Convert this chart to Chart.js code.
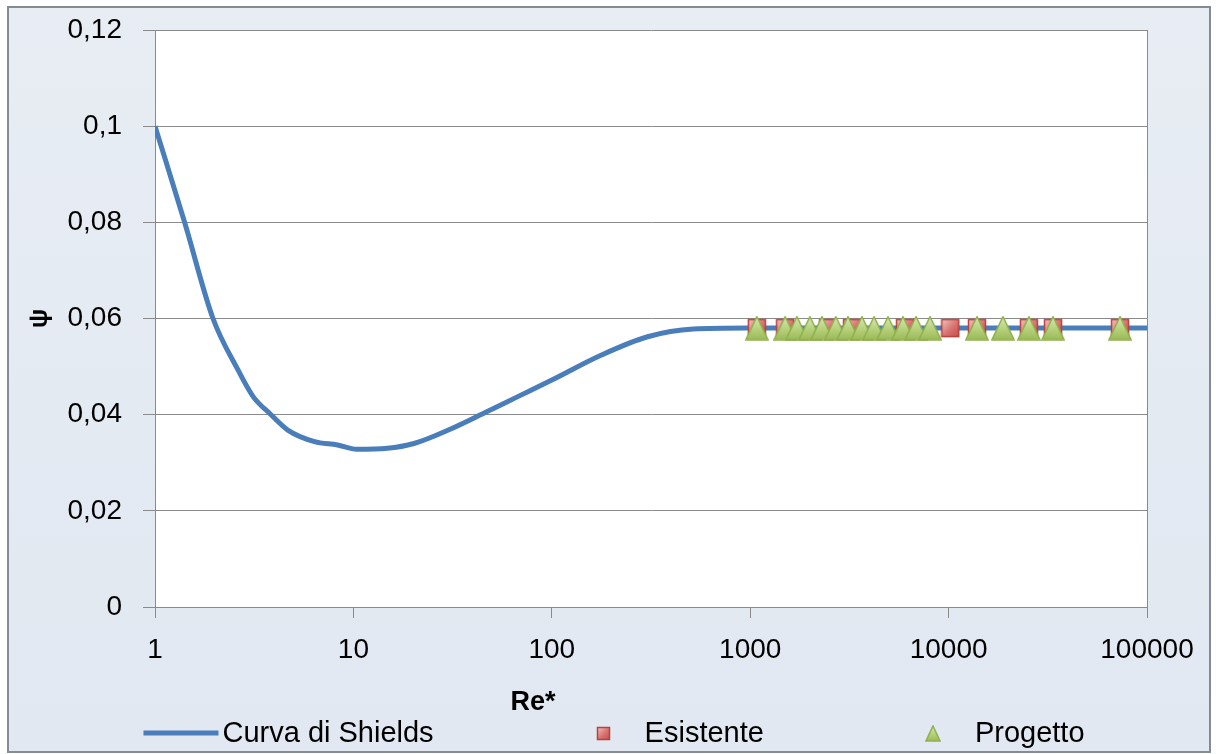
<!DOCTYPE html>
<html>
<head>
<meta charset="utf-8">
<script src="https://cdn.jsdelivr.net/npm/chart.js@4.4.1/dist/chart.umd.min.js"></script>
<style>
  html, body { margin: 0; padding: 0; background: #ffffff; }
  canvas { display: block; }
</style>
</head>
<body>
<canvas id="chart" width="1216" height="754"></canvas>
<script>
// Shields curve: critical Shields parameter versus particle Reynolds number
const shieldsRe  = [1, 1.41, 1.96, 2.62, 3.13, 3.82, 4.67, 6.37, 8.32, 10.4, 14.8, 20.2, 30.1, 47, 67, 100, 178, 304, 517, 964, 100000];
const shieldsPsi = [0.100, 0.080, 0.060, 0.0493, 0.0437, 0.0401, 0.0368, 0.0344, 0.0337, 0.0328, 0.0330, 0.0340, 0.0368, 0.0406, 0.0437, 0.0472, 0.0524, 0.0562, 0.0578, 0.058, 0.058];

// Existing state (Esistente)
const esistenteRe  = [1080, 1500, 2470, 3260, 6030, 10200, 13900, 25400, 33600, 73100];
const esistentePsi = [0.058, 0.058, 0.058, 0.058, 0.058, 0.058, 0.058, 0.058, 0.058, 0.058];

// Design state (Progetto)
const progettoRe  = [1080, 1500, 1720, 2000, 2300, 2700, 3110, 3660, 4210, 4950, 5890, 6850, 8060, 13900, 18800, 25400, 33600, 73100];
const progettoPsi = [0.058, 0.058, 0.058, 0.058, 0.058, 0.058, 0.058, 0.058, 0.058, 0.058, 0.058, 0.058, 0.058, 0.058, 0.058, 0.058, 0.058, 0.058];

// Axis ticks
const xTickValues = [1, 10, 100, 1000, 10000, 100000];
const xTickLabels = ['1', '10', '100', '1000', '10000', '100000'];
const yTickValues = [0, 0.02, 0.04, 0.06, 0.08, 0.10, 0.12];
const yTickLabels = ['0', '0,02', '0,04', '0,06', '0,08', '0,1', '0,12'];

const seriesNames = ['Curva di Shields', 'Esistente', 'Progetto'];
const xTitle = 'Re*';
const yTitle = 'ψ';

const FONT = '"Liberation Sans", Arial, sans-serif';
const LINE_BLUE = '#4a7ebb';
const GRID = '#8a8a8a';

function toPoints(xs, ys) {
  return xs.map((x, i) => ({ x: x, y: ys[i] }));
}

// Marker glyphs with a soft gradient fill
function squareMarker(size) {
  const c = document.createElement('canvas');
  c.width = size + 2; c.height = size + 2;
  const g = c.getContext('2d');
  const grad = g.createLinearGradient(1, 1, size + 1, size + 1);
  grad.addColorStop(0, '#f2c9c8');
  grad.addColorStop(0.55, '#d9716e');
  grad.addColorStop(1, '#c0504d');
  g.fillStyle = grad;
  g.fillRect(1, 1, size, size);
  g.strokeStyle = '#b8403d';
  g.lineWidth = 1.5;
  g.strokeRect(1.5, 1.5, size - 1, size - 1);
  return c;
}

function triangleMarker(w, h) {
  const c = document.createElement('canvas');
  c.width = w + 2; c.height = h + 2;
  const g = c.getContext('2d');
  const grad = g.createLinearGradient(0, 1, 0, h + 1);
  grad.addColorStop(0, '#dbe8bd');
  grad.addColorStop(0.5, '#b9d37f');
  grad.addColorStop(1, '#9bbb59');
  g.beginPath();
  g.moveTo((w + 2) / 2, 1);
  g.lineTo(w + 1, h + 1);
  g.lineTo(1, h + 1);
  g.closePath();
  g.fillStyle = grad;
  g.fill();
  g.strokeStyle = '#8fb04c';
  g.lineWidth = 1.5;
  g.stroke();
  return c;
}

const squareImg = squareMarker(18);
const triangleImg = triangleMarker(22, 23);
const squareLegendImg = squareMarker(13);
const triangleLegendImg = triangleMarker(14, 15);

// Frame, panel fills and plot border
const framePlugin = {
  id: 'frame',
  beforeDraw(chart) {
    const { ctx, chartArea: a, width, height } = chart;
    ctx.save();
    ctx.fillStyle = '#ffffff';
    ctx.fillRect(0, 0, width, height);
    const grad = ctx.createLinearGradient(0, 7, 0, height);
    grad.addColorStop(0, '#e8edf4');
    grad.addColorStop(1, '#e1e8f1');
    ctx.fillStyle = grad;
    ctx.fillRect(8, 7, width - 14, height - 9);
    ctx.strokeStyle = '#858b93';
    ctx.lineWidth = 2;
    ctx.strokeRect(8, 7, width - 14, height - 9);
    ctx.fillStyle = '#ffffff';
    ctx.fillRect(a.left, a.top, a.right - a.left, a.bottom - a.top);
    ctx.restore();
  },
  beforeDatasetsDraw(chart) {
    const { ctx, chartArea: a } = chart;
    ctx.save();
    ctx.strokeStyle = GRID;
    ctx.lineWidth = 1;
    ctx.beginPath();
    ctx.moveTo(Math.round(a.right) + 0.5, a.top);
    ctx.lineTo(Math.round(a.right) + 0.5, a.bottom);
    ctx.stroke();
    ctx.restore();
  }
};

// X axis title and the bottom legend row
const legendPlugin = {
  id: 'bottomLegend',
  afterDraw(chart) {
    const { ctx, chartArea: a } = chart;
    ctx.save();
    ctx.fillStyle = '#000000';
    ctx.textBaseline = 'middle';

    ctx.font = 'bold 27px ' + FONT;
    ctx.textAlign = 'center';
    ctx.fillText(xTitle, a.left + 378, a.bottom + 96);

    ctx.font = '29px ' + FONT;
    ctx.textAlign = 'left';
    const symW = 75, textGap = 4, itemGap = 132;
    const ds = chart.data.datasets;
    const widths = ds.map(d => ctx.measureText(d.label).width);
    let total = itemGap * (ds.length - 1);
    widths.forEach(w => { total += symW + textGap + w; });
    let x = 614 - total / 2;
    const y = a.bottom + 126;
    ds.forEach((d, i) => {
      const cx = x + symW / 2;
      if (d.showLine) {
        ctx.strokeStyle = d.borderColor;
        ctx.lineWidth = d.borderWidth;
        ctx.beginPath();
        ctx.moveTo(x, y);
        ctx.lineTo(x + symW, y);
        ctx.stroke();
      } else {
        const img = d.legendImage;
        ctx.drawImage(img, Math.round(cx - img.width / 2), Math.round(y - img.height / 2));
      }
      ctx.fillText(d.label, x + symW + textGap, y + 1);
      x += symW + textGap + widths[i] + itemGap;
    });
    ctx.restore();
  }
};

new Chart(document.getElementById('chart'), {
  type: 'scatter',
  data: {
    datasets: [
      {
        label: seriesNames[0],
        data: toPoints(shieldsRe, shieldsPsi),
        showLine: true,
        borderColor: LINE_BLUE,
        borderWidth: 5,
        pointRadius: 0,
        cubicInterpolationMode: 'monotone',
        order: 3
      },
      {
        label: seriesNames[1],
        data: toPoints(esistenteRe, esistentePsi),
        showLine: false,
        pointStyle: squareImg,
        pointRadius: 9,
        legendImage: squareLegendImg,
        order: 2
      },
      {
        label: seriesNames[2],
        data: toPoints(progettoRe, progettoPsi),
        showLine: false,
        pointStyle: triangleImg,
        pointRadius: 11,
        legendImage: triangleLegendImg,
        order: 1
      }
    ]
  },
  options: {
    responsive: false,
    animation: false,
    layout: { padding: { top: 30, right: 69, bottom: 0, left: 0 } },
    plugins: {
      legend: { display: false },
      tooltip: { enabled: false }
    },
    scales: {
      x: {
        type: 'logarithmic',
        min: 1,
        max: 100000,
        afterBuildTicks(scale) {
          scale.ticks = xTickValues.map(v => ({ value: v, major: true }));
        },
        afterFit(scale) { scale.height = 147; },
        ticks: {
          autoSkip: false,
          maxRotation: 0,
          padding: 15,
          color: '#000000',
          font: { family: FONT, size: 28 },
          callback: (v, i) => xTickLabels[i]
        },
        grid: {
          drawOnChartArea: false,
          drawTicks: true,
          tickLength: 11,
          color: GRID,
          lineWidth: 1
        },
        border: { display: true, color: GRID, width: 1 }
      },
      y: {
        type: 'linear',
        min: 0,
        max: 0.12,
        afterBuildTicks(scale) {
          scale.ticks = yTickValues.map(v => ({ value: v }));
        },
        afterFit(scale) {
          scale.width = 155;
          scale.paddingTop = 0;
          scale.paddingBottom = 0;
        },
        ticks: {
          padding: 21,
          color: '#000000',
          font: { family: FONT, size: 28 },
          callback: (v, i) => yTickLabels[i]
        },
        grid: {
          drawTicks: true,
          tickLength: 12,
          color: GRID,
          lineWidth: 1
        },
        border: { display: true, color: GRID, width: 1 },
        title: {
          display: true,
          text: yTitle,
          color: '#000000',
          font: { family: FONT, size: 26, weight: 'bold' },
          padding: { top: 24, bottom: 0 }
        }
      }
    }
  },
  plugins: [framePlugin, legendPlugin]
});
</script>
</body>
</html>
